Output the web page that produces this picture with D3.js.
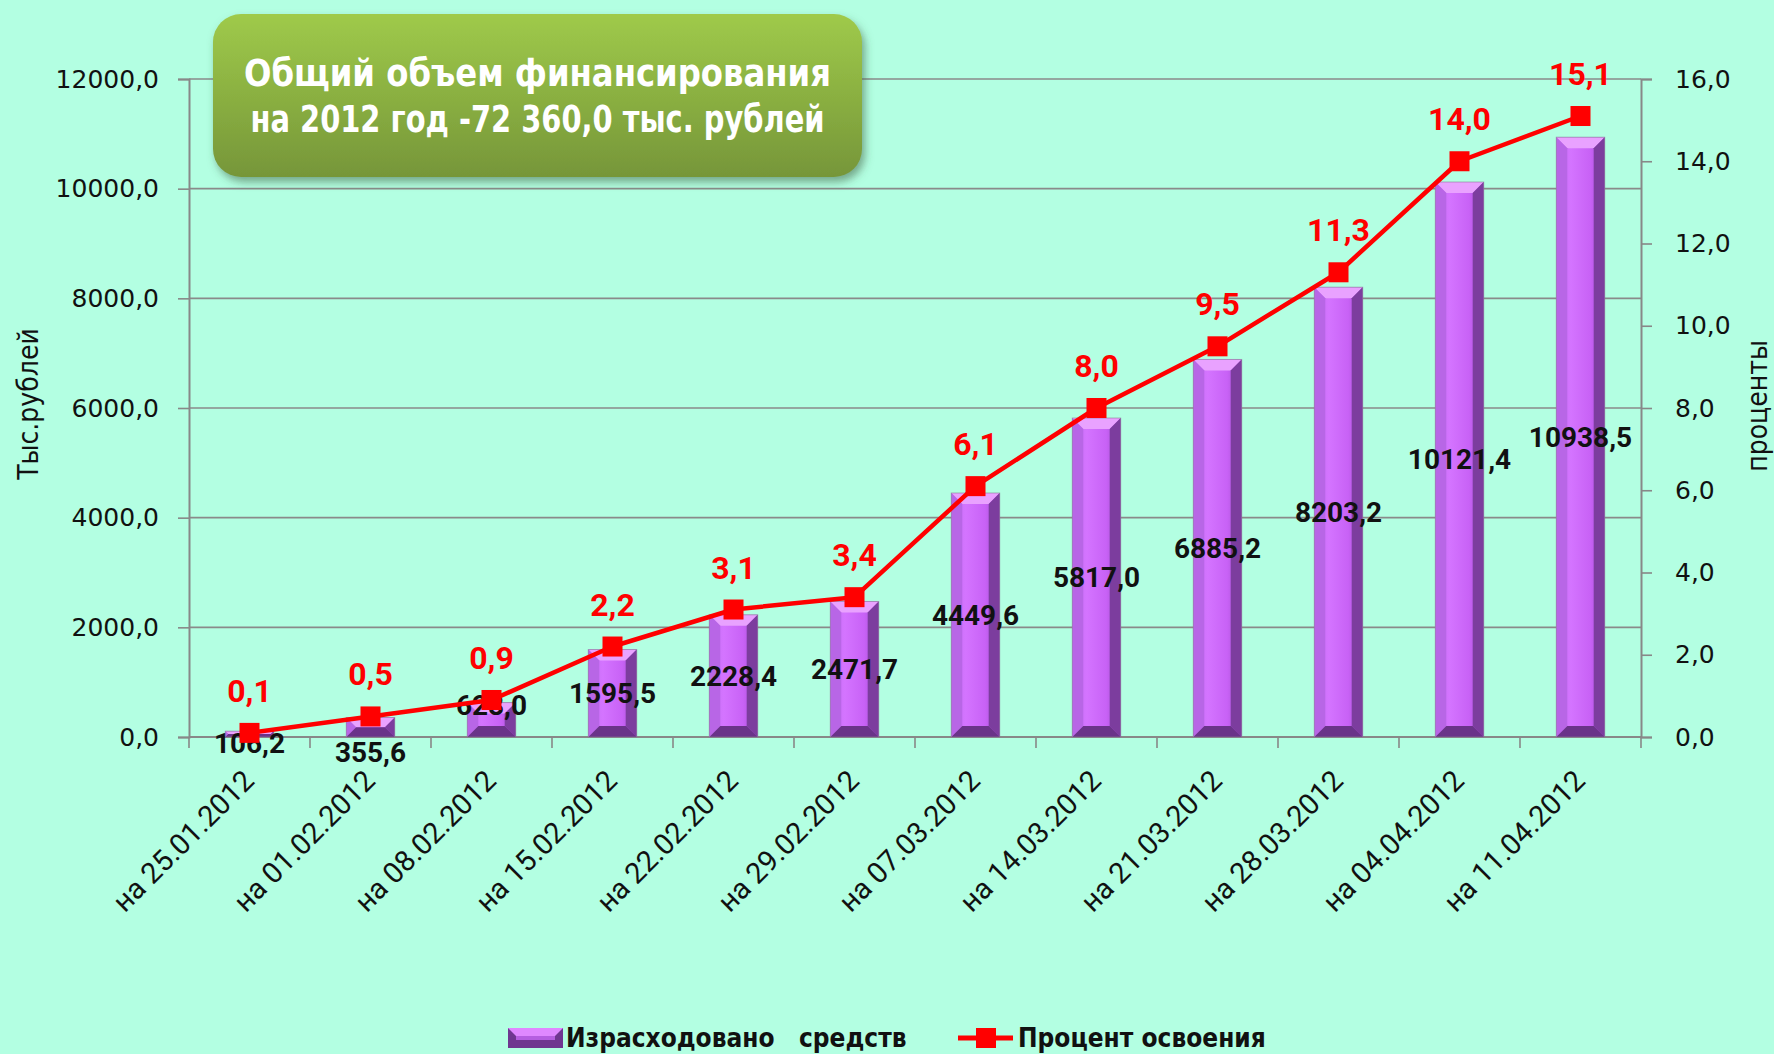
<!DOCTYPE html>
<html>
<head>
<meta charset="utf-8">
<script src="https://cdn.jsdelivr.net/npm/d3@7"></script>
<style>
    html, body { margin: 0; padding: 0; background: #b3ffe2; }
    svg { display: block; }
</style>
</head>
<body>
<script>
const dates = ["на 25.01.2012", "на 01.02.2012", "на 08.02.2012", "на 15.02.2012", "на 22.02.2012", "на 29.02.2012",
    "на 07.03.2012", "на 14.03.2012", "на 21.03.2012", "на 28.03.2012", "на 04.04.2012", "на 11.04.2012"]
const spent = [106.2, 355.6, 628.0, 1595.5, 2228.4, 2471.7, 4449.6, 5817.0, 6885.2, 8203.2, 10121.4, 10938.5]
const percent = [0.1, 0.5, 0.9, 2.2, 3.1, 3.4, 6.1, 8.0, 9.5, 11.3, 14.0, 15.1]
const leftTicks = [0, 2000, 4000, 6000, 8000, 10000, 12000]
const rightTicks = [0, 2, 4, 6, 8, 10, 12, 14, 16]
const titleLines = ["Общий объем финансирования", "на 2012 год -72 360,0 тыс. рублей"]
const legendLabels = ["Израсходовано   средств", "Процент освоения"]
const leftTitle = "Тыс.рублей"
const rightTitle = "проценты"

const width = 1774
const height = 1054
const margin = { top: 79, right: 133, bottom: 317, left: 189 }
const fmt = (v) => d3.format(".1f")(v).replace(".", ",")
// the three smallest bars have their labels moved by hand in the original
const labelNudge = { 0: 9, 1: 25, 2: -15 }
// title line widths, so the fallback font keeps the original's proportions
const titleWidths = [587, 574]

const narrow = "'Liberation Sans Narrow', 'DejaVu Sans Condensed', sans-serif"
const calib = "Roboto, 'Open Sans', sans-serif"

const svg = d3.select("body").append("svg")
    .attr("width", width)
    .attr("height", height)

const defs = svg.append("defs")
const face = defs.append("linearGradient").attr("id", "barFace")
    .attr("x1", "0").attr("x2", "1").attr("y1", "0").attr("y2", "0")
face.selectAll("stop")
    .data([[0, "#c36ff2"], [0.3, "#d474ff"], [0.7, "#c862f6"], [1, "#a04cca"]])
    .join("stop")
    .attr("offset", (d) => d[0])
    .attr("stop-color", (d) => d[1])

const boxGrad = defs.append("linearGradient").attr("id", "boxGrad")
    .attr("x1", "0").attr("x2", "0").attr("y1", "0").attr("y2", "1")
boxGrad.append("stop").attr("offset", 0).attr("stop-color", "#9fca4a")
boxGrad.append("stop").attr("offset", 1).attr("stop-color", "#769639")

defs.append("filter").attr("id", "shadow")
    .attr("x", "-10%").attr("y", "-10%").attr("width", "125%").attr("height", "140%")
    .append("feDropShadow")
    .attr("dx", 3).attr("dy", 5).attr("stdDeviation", 4)
    .attr("flood-color", "#3f5f3f").attr("flood-opacity", 0.55)

const x = d3.scaleBand()
    .domain(dates)
    .range([margin.left, width - margin.right])
    .paddingInner(0.6)
    .paddingOuter(0.3)

const yL = d3.scaleLinear().domain([0, 12000]).range([height - margin.bottom, margin.top])
const yR = d3.scaleLinear().domain([0, 16]).range([height - margin.bottom, margin.top])
const x0 = margin.left
const x1 = width - margin.right
const base = yL(0)

// gridlines
svg.append("g")
    .selectAll("line")
    .data(leftTicks.slice(1))
    .join("line")
    .attr("x1", x0).attr("x2", x1)
    .attr("y1", (d) => yL(d)).attr("y2", (d) => yL(d))
    .attr("stroke", "#8a8a8a")
    .attr("stroke-width", 1.6)

// left axis
const leftAxis = svg.append("g")
    .attr("transform", `translate(${x0},0)`)
    .call(d3.axisLeft(yL).tickValues(leftTicks).tickSize(11).tickPadding(19).tickFormat(fmt))
leftAxis.select(".domain").attr("stroke", "#888").attr("stroke-width", 2)
leftAxis.selectAll(".tick line").attr("stroke", "#888").attr("stroke-width", 1.6)
leftAxis.selectAll("text")
    .attr("font-family", "'DejaVu Sans', sans-serif")
    .attr("font-size", 25)
    .attr("fill", "#111")

// right axis
const rightAxis = svg.append("g")
    .attr("transform", `translate(${x1},0)`)
    .call(d3.axisRight(yR).tickValues(rightTicks).tickSize(11).tickPadding(23).tickFormat(fmt))
rightAxis.select(".domain").attr("stroke", "#888").attr("stroke-width", 2)
rightAxis.selectAll(".tick line").attr("stroke", "#888").attr("stroke-width", 1.6)
rightAxis.selectAll("text")
    .attr("font-family", "'DejaVu Sans', sans-serif")
    .attr("font-size", 25)
    .attr("fill", "#111")

// bottom axis: ticks sit between categories
const gap = (x.step() - x.bandwidth()) / 2
const bounds = dates.map((d) => x(d) - gap).concat([x(dates[dates.length - 1]) + x.bandwidth() + gap])
svg.append("line")
    .attr("x1", x0).attr("x2", x1)
    .attr("y1", base).attr("y2", base)
    .attr("stroke", "#888").attr("stroke-width", 2)
svg.append("g")
    .selectAll("line")
    .data(bounds)
    .join("line")
    .attr("x1", (d) => d).attr("x2", (d) => d)
    .attr("y1", base).attr("y2", base + 11)
    .attr("stroke", "#888").attr("stroke-width", 1.6)

svg.append("g")
    .selectAll("text")
    .data(dates)
    .join("text")
    .attr("transform", (d) => `translate(${x(d) + x.bandwidth() / 2 - 8},${base + 31}) rotate(-45)`)
    .attr("text-anchor", "end")
    .attr("dy", "0.7em")
    .attr("font-family", calib)
    .attr("font-size", 29)
    .attr("fill", "#111")
    .text((d) => d)

// bevelled bars
const bars = svg.append("g")
    .selectAll("g")
    .data(spent)
    .join("g")
bars.each(function (v, i) {
    const g = d3.select(this)
    const bx = x(dates[i])
    const w = x.bandwidth()
    const top = yL(v)
    const h = base - top
    const b = Math.min(11, h / 2)
    g.append("rect")
        .attr("x", bx).attr("y", top)
        .attr("width", w).attr("height", h)
        .attr("fill", "url(#barFace)")
    const poly = (pts, fill) => g.append("polygon")
        .attr("points", pts.map((p) => p.join(",")).join(" "))
        .attr("fill", fill)
    poly([[bx, top], [bx + w, top], [bx + w - b, top + b], [bx + b, top + b]], "#e9a2ff")
    poly([[bx, top], [bx + b, top + b], [bx + b, base - b], [bx, base]], "#b866e6")
    poly([[bx + w, top], [bx + w - b, top + b], [bx + w - b, base - b], [bx + w, base]], "#7c3d9e")
    poly([[bx, base], [bx + w, base], [bx + w - b, base - b], [bx + b, base - b]], "#6a3389")
    g.append("rect")
        .attr("x", bx).attr("y", top)
        .attr("width", w).attr("height", h)
        .attr("fill", "none")
        .attr("stroke", "#8b7a96")
        .attr("stroke-opacity", 0.6)
        .attr("stroke-width", 1)
})

// bar value labels
svg.append("g")
    .selectAll("text")
    .data(spent)
    .join("text")
    .attr("x", (d, i) => x(dates[i]) + x.bandwidth() / 2)
    .attr("y", (d, i) => (yL(d) + base) / 2 + (labelNudge[i] || 0))
    .attr("dy", "0.35em")
    .attr("text-anchor", "middle")
    .attr("font-family", calib)
    .attr("font-weight", "bold")
    .attr("font-size", 28)
    .attr("fill", "#111")
    .text((d) => fmt(d))

// percent line
const cx = (i) => x(dates[i]) + x.bandwidth() / 2
const line = d3.line()
    .x((d, i) => cx(i))
    .y((d) => yR(d))
svg.append("path")
    .datum(percent)
    .attr("d", line)
    .attr("fill", "none")
    .attr("stroke", "#ff0000")
    .attr("stroke-width", 4.5)
    .attr("stroke-linejoin", "round")

const mk = 20
svg.append("g")
    .selectAll("rect")
    .data(percent)
    .join("rect")
    .attr("x", (d, i) => cx(i) - mk / 2)
    .attr("y", (d) => yR(d) - mk / 2)
    .attr("width", mk).attr("height", mk)
    .attr("fill", "#ff0000")

svg.append("g")
    .selectAll("text")
    .data(percent)
    .join("text")
    .attr("x", (d, i) => cx(i))
    .attr("y", (d) => yR(d) - 31)
    .attr("text-anchor", "middle")
    .attr("font-family", calib)
    .attr("font-weight", "bold")
    .attr("font-size", 32)
    .attr("fill", "#ff0000")
    .text((d) => fmt(d))

// axis titles
svg.append("text")
    .attr("transform", `translate(28,${(yL(0) + yL(12000)) / 2 - 4}) rotate(-90)`)
    .attr("text-anchor", "middle")
    .attr("dy", "0.35em")
    .attr("font-family", narrow)
    .attr("font-size", 28)
    .attr("fill", "#111")
    .text(leftTitle)

svg.append("text")
    .attr("transform", `translate(1757,${(yL(0) + yL(12000)) / 2 - 2}) rotate(-90)`)
    .attr("text-anchor", "middle")
    .attr("dy", "0.35em")
    .attr("font-family", narrow)
    .attr("font-size", 28)
    .attr("fill", "#111")
    .text(rightTitle)

// title box
const box = { x: 213, y: 14, w: 649, h: 163 }
svg.append("rect")
    .attr("x", box.x).attr("y", box.y)
    .attr("width", box.w).attr("height", box.h)
    .attr("rx", 28)
    .attr("fill", "url(#boxGrad)")
    .attr("filter", "url(#shadow)")
svg.append("g")
    .selectAll("text")
    .data(titleLines)
    .join("text")
    .attr("x", box.x + box.w / 2)
    .attr("y", (d, i) => 73 + i * 46)
    .attr("dy", "0.35em")
    .attr("text-anchor", "middle")
    .attr("textLength", (d, i) => titleWidths[i])
    .attr("lengthAdjust", "spacingAndGlyphs")
    .attr("font-family", narrow)
    .attr("font-weight", "bold")
    .attr("font-size", 37)
    .attr("fill", "#ffffff")
    .text((d) => d)

// legend
const ly = 1038
const sw = { x: 508, y: 1028, w: 55, h: 20 }
const lg = svg.append("g")
lg.append("rect")
    .attr("x", sw.x).attr("y", sw.y).attr("width", sw.w).attr("height", sw.h)
    .attr("fill", "#6f3790")
lg.append("polygon")
    .attr("points", [[sw.x, sw.y], [sw.x + sw.w, sw.y], [sw.x + sw.w - 8, sw.y + 8], [sw.x + 8, sw.y + 8]].map((p) => p.join(",")).join(" "))
    .attr("fill", "#df88ff")
lg.append("rect")
    .attr("x", sw.x + 8).attr("y", sw.y + 8).attr("width", sw.w - 16).attr("height", 4)
    .attr("fill", "#b55ee0")
lg.append("text")
    .attr("x", 566).attr("y", ly)
    .attr("dy", "0.35em")
    .attr("xml:space", "preserve")
    .style("white-space", "pre")
    .attr("font-family", narrow)
    .attr("font-weight", "bold")
    .attr("font-size", 26)
    .attr("fill", "#111")
    .text(legendLabels[0])

lg.append("line")
    .attr("x1", 958).attr("x2", 1013)
    .attr("y1", ly).attr("y2", ly)
    .attr("stroke", "#ff0000").attr("stroke-width", 5)
lg.append("rect")
    .attr("x", 986 - 10).attr("y", ly - 10).attr("width", 20).attr("height", 20)
    .attr("fill", "#ff0000")
lg.append("text")
    .attr("x", 1018).attr("y", ly)
    .attr("dy", "0.35em")
    .attr("font-family", narrow)
    .attr("font-weight", "bold")
    .attr("font-size", 26)
    .attr("fill", "#111")
    .text(legendLabels[1])
</script>
</body>
</html>
